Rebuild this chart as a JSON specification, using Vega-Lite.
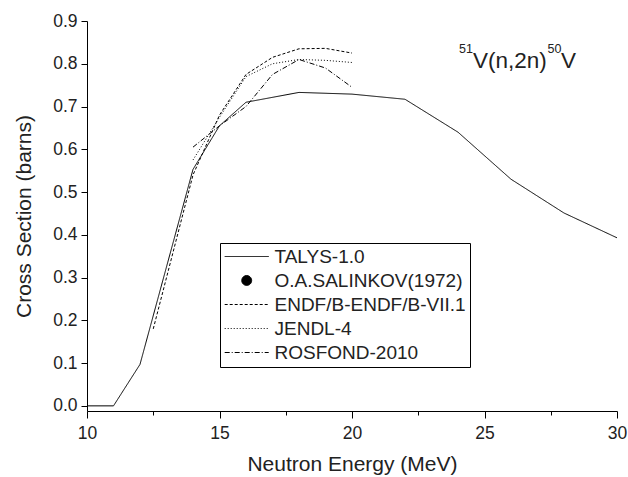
{
  "$schema": "https://vega.github.io/schema/vega-lite/v6.json",
  "width": 530,
  "height": 390,
  "autosize": {"type": "none"},
  "padding": {"left": 87, "top": 21, "right": 11, "bottom": 66},
  "background": "white",
  "config": {
    "view": {"stroke": null},
    "font": "Liberation Sans",
    "axis": {
      "grid": false,
      "domainColor": "black",
      "tickColor": "black",
      "labelColor": "#222",
      "titleColor": "#222",
      "labelFont": "Liberation Sans",
      "titleFont": "Liberation Sans",
      "labelFontSize": 17.5,
      "titleFontSize": 21,
      "titleFontWeight": "normal",
      "domainWidth": 1,
      "tickWidth": 1,
      "labelFlush": false,
      "labelOverlap": false
    }
  },
  "datasets": {
    "curves": [
      {"series": "TALYS-1.0", "E": 10, "xs": 0},
      {"series": "TALYS-1.0", "E": 11, "xs": 0},
      {"series": "TALYS-1.0", "E": 12, "xs": 0.097},
      {"series": "TALYS-1.0", "E": 14, "xs": 0.553},
      {"series": "TALYS-1.0", "E": 15, "xs": 0.655},
      {"series": "TALYS-1.0", "E": 16, "xs": 0.71},
      {"series": "TALYS-1.0", "E": 18, "xs": 0.733},
      {"series": "TALYS-1.0", "E": 20, "xs": 0.729},
      {"series": "TALYS-1.0", "E": 22, "xs": 0.717},
      {"series": "TALYS-1.0", "E": 24, "xs": 0.64},
      {"series": "TALYS-1.0", "E": 26, "xs": 0.53},
      {"series": "TALYS-1.0", "E": 28, "xs": 0.451},
      {"series": "TALYS-1.0", "E": 30, "xs": 0.393},
      {"series": "ENDF/B-ENDF/B-VII.1", "E": 12.5, "xs": 0.18},
      {"series": "ENDF/B-ENDF/B-VII.1", "E": 13, "xs": 0.3},
      {"series": "ENDF/B-ENDF/B-VII.1", "E": 14, "xs": 0.54},
      {"series": "ENDF/B-ENDF/B-VII.1", "E": 15, "xs": 0.68},
      {"series": "ENDF/B-ENDF/B-VII.1", "E": 16, "xs": 0.775},
      {"series": "ENDF/B-ENDF/B-VII.1", "E": 17, "xs": 0.815},
      {"series": "ENDF/B-ENDF/B-VII.1", "E": 18, "xs": 0.835},
      {"series": "ENDF/B-ENDF/B-VII.1", "E": 19, "xs": 0.836},
      {"series": "ENDF/B-ENDF/B-VII.1", "E": 20, "xs": 0.825},
      {"series": "JENDL-4", "E": 14, "xs": 0.575},
      {"series": "JENDL-4", "E": 15, "xs": 0.675},
      {"series": "JENDL-4", "E": 16, "xs": 0.77},
      {"series": "JENDL-4", "E": 17, "xs": 0.8},
      {"series": "JENDL-4", "E": 18, "xs": 0.81},
      {"series": "JENDL-4", "E": 19, "xs": 0.808},
      {"series": "JENDL-4", "E": 20, "xs": 0.803},
      {"series": "ROSFOND-2010", "E": 14, "xs": 0.605},
      {"series": "ROSFOND-2010", "E": 15, "xs": 0.655},
      {"series": "ROSFOND-2010", "E": 16, "xs": 0.7},
      {"series": "ROSFOND-2010", "E": 17, "xs": 0.775},
      {"series": "ROSFOND-2010", "E": 18, "xs": 0.81},
      {"series": "ROSFOND-2010", "E": 19, "xs": 0.79},
      {"series": "ROSFOND-2010", "E": 20, "xs": 0.745}
    ],
    "note": [{"label": "reaction"}]
  },
  "layer": [
    {
      "data": {"name": "curves"},
      "mark": {"type": "line", "strokeWidth": 1, "color": "black"},
      "encoding": {
        "x": {
          "field": "E",
          "type": "quantitative",
          "scale": {"domain": [10, 30], "nice": false, "zero": false},
          "axis": {
            "title": "Neutron Energy (MeV)",
            "values": [10, 12.5, 15, 17.5, 20, 22.5, 25, 27.5, 30],
            "labelExpr": "datum.value % 5 === 0 ? format(datum.value, 'd') : ''",
            "tickSize": {"condition": {"test": "datum.value % 5 === 0", "value": 7}, "value": 4},
            "labelPadding": 6,
            "titlePadding": 12
          }
        },
        "y": {
          "field": "xs",
          "type": "quantitative",
          "scale": {"domain": [-0.012, 0.9], "nice": false, "zero": false},
          "axis": {
            "title": "Cross Section (barns)",
            "values": [0, 0.05, 0.1, 0.15, 0.2, 0.25, 0.3, 0.35, 0.4, 0.45, 0.5, 0.55, 0.6, 0.65, 0.7, 0.75, 0.8, 0.85, 0.9],
            "labelExpr": "abs(datum.value*10 - round(datum.value*10)) < 0.001 ? format(datum.value, '.1f') : ''",
            "tickSize": {"condition": {"test": "abs(datum.value*10 - round(datum.value*10)) < 0.001", "value": 6}, "value": 3},
            "labelPadding": 4,
            "titlePadding": 18
          }
        },
        "strokeDash": {
          "field": "series",
          "type": "nominal",
          "scale": {
            "domain": ["TALYS-1.0", "O.A.SALINKOV(1972)", "ENDF/B-ENDF/B-VII.1", "JENDL-4", "ROSFOND-2010"],
            "range": [[1, 0], [1, 0], [3, 2], [1, 2], [5, 2, 1, 2]]
          },
          "legend": {
            "orient": "none",
            "legendX": 133,
            "legendY": 222,
            "title": null,
            "strokeColor": "black",
            "fillColor": "white",
            "padding": 4,
            "labelFont": "Liberation Sans",
            "labelFontSize": 19,
            "labelColor": "#222",
            "labelOffset": 31.5,
            "labelLimit": 400,
            "rowPadding": 4,
            "symbolStrokeWidth": 1,
            "symbolStrokeColor": "black",
            "symbolSize": 121,
            "symbolType": "M-1.6,0H6.4",
            "encode": {
              "symbols": {
                "update": {
                  "shape": {"signal": "datum.value === 'O.A.SALINKOV(1972)' ? 'M1.5,0A0.9,0.9,0,1,1,3.3,0A0.9,0.9,0,1,1,1.5,0Z' : 'M-1.6,0H6.4'"},
                  "fill": {"signal": "datum.value === 'O.A.SALINKOV(1972)' ? 'black' : 'transparent'"},
                  "stroke": {"value": "black"}
                }
              }
            }
          }
        }
      }
    },
    {
      "data": {"name": "note"},
      "mark": {"type": "text", "align": "left", "baseline": "alphabetic", "fontSize": 22.5, "font": "Liberation Sans", "color": "#222"},
      "encoding": {
        "x": {"datum": 24.566, "type": "quantitative"},
        "y": {"datum": 0.79, "type": "quantitative"},
        "text": {"value": "V(n,2n)"}
      }
    },
    {
      "data": {"name": "note"},
      "mark": {"type": "text", "align": "left", "baseline": "alphabetic", "fontSize": 22.5, "font": "Liberation Sans", "color": "#222"},
      "encoding": {
        "x": {"datum": 27.887, "type": "quantitative"},
        "y": {"datum": 0.79, "type": "quantitative"},
        "text": {"value": "V"}
      }
    },
    {
      "data": {"name": "note"},
      "mark": {"type": "text", "align": "left", "baseline": "alphabetic", "fontSize": 12.5, "font": "Liberation Sans", "color": "#222"},
      "encoding": {
        "x": {"datum": 24.04, "type": "quantitative"},
        "y": {"datum": 0.825, "type": "quantitative"},
        "text": {"value": "51"}
      }
    },
    {
      "data": {"name": "note"},
      "mark": {"type": "text", "align": "left", "baseline": "alphabetic", "fontSize": 12.5, "font": "Liberation Sans", "color": "#222"},
      "encoding": {
        "x": {"datum": 27.377, "type": "quantitative"},
        "y": {"datum": 0.825, "type": "quantitative"},
        "text": {"value": "50"}
      }
    }
  ]
}
